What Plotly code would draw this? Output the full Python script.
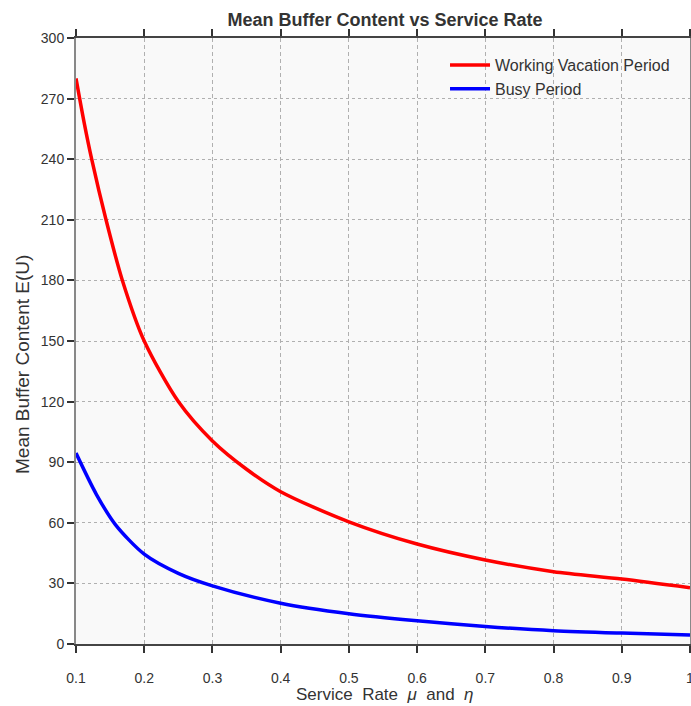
import plotly.graph_objects as go

x_vals = [0.1, 0.112, 0.123, 0.144, 0.168, 0.2, 0.25, 0.3, 0.35, 0.4, 0.5, 0.6, 0.7, 0.8, 0.9, 1.0]
working_vacation = [280, 258, 240, 210, 180, 150, 120, 100.5, 86.5, 75.4, 60.5, 49.5, 41.6, 35.8, 32.2, 27.9]

x_busy = [0.1, 0.13, 0.158, 0.2, 0.25, 0.3, 0.4, 0.5, 0.6, 0.7, 0.8, 0.9, 1.0]
busy_period = [94.5, 74, 59, 44.5, 35, 28.8, 20.2, 15, 11.5, 8.7, 6.6, 5.4, 4.5]

x_ticks = [0.1, 0.2, 0.3, 0.4, 0.5, 0.6, 0.7, 0.8, 0.9, 1.0]
x_tick_labels = ["0.1", "0.2", "0.3", "0.4", "0.5", "0.6", "0.7", "0.8", "0.9", "1"]
y_ticks = [0, 30, 60, 90, 120, 150, 180, 210, 240, 270, 300]

fig = go.Figure()
fig.add_trace(go.Scatter(x=x_vals, y=working_vacation, mode="lines",
                         name="Working Vacation Period",
                         line=dict(color="#ff0000", width=3.5, shape="spline", smoothing=0.8)))
fig.add_trace(go.Scatter(x=x_busy, y=busy_period, mode="lines",
                         name="Busy Period",
                         line=dict(color="#0000ff", width=3.5, shape="spline", smoothing=0.8)))

font_family = "Liberation Sans, Arial, sans-serif"
L, R, T, B = 76, 1, 38, 62
W, H = 691, 706
pw, ph = W - L - R, H - T - B

fig.update_layout(
    width=W, height=H,
    margin=dict(l=L, r=R, t=T, b=B, autoexpand=False),
    paper_bgcolor="white",
    plot_bgcolor="#f9f9f9",
    font=dict(family=font_family, color="#333333", size=14),
    title=dict(text="<b>Mean Buffer Content vs Service Rate</b>",
               x=385 / W, xanchor="center",
               y=1 - 20 / H, yanchor="middle",
               font=dict(size=18, color="#333333", family=font_family)),
    showlegend=True,
    legend=dict(x=0.601, y=(644 - 48) / ph, xanchor="left", yanchor="top",
                bgcolor="rgba(0,0,0,0)", font=dict(size=16, color="#333333"),
                tracegroupgap=0, itemwidth=40),
    xaxis=dict(range=[0.1, 1.0], tickvals=x_ticks, ticktext=x_tick_labels,
               showgrid=True, gridcolor="#b0b0b0", griddash="4px,3px", gridwidth=1,
               showline=True, linecolor="#444444", linewidth=2, mirror="ticks",
               ticks="outside", ticklen=7, tickcolor="#333333", tickwidth=2,
               ticklabelstandoff=13, zeroline=False, automargin=False,
               ticklabeloverflow="allow", tickfont=dict(size=14)),
    yaxis=dict(range=[0, 300], tickvals=y_ticks,
               showgrid=True, gridcolor="#b0b0b0", griddash="3px,3px", gridwidth=1,
               showline=True, linecolor="#888888", linewidth=2, mirror="ticks",
               ticks="outside", ticklen=7, tickcolor="#333333", tickwidth=2,
               zeroline=False, automargin=False, tickfont=dict(size=14)),
    annotations=[
        dict(text="Service  Rate  <i>μ</i>  and  <i>η</i>", xref="paper", yref="paper",
             x=(385 - L) / pw, y=-(694 - 644) / ph, xanchor="center", yanchor="middle",
             showarrow=False, font=dict(size=17, color="#333333")),
        dict(text="Mean Buffer Content E(U)", xref="paper", yref="paper",
             x=(22 - L) / pw, y=0.5 - 24 / ph, xanchor="center", yanchor="middle", textangle=-90,
             showarrow=False, font=dict(size=19, color="#333333")),
    ],
)

fig.write_html("out.html",
               config={"displayModeBar": False},
               post_script="document.body.style.margin='0';document.body.style.padding='0';document.body.style.overflow='hidden';")
